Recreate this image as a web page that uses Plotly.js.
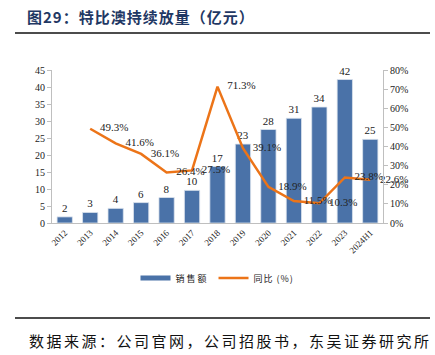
<!DOCTYPE html>
<html><head><meta charset="utf-8">
<script src="https://cdn.plot.ly/plotly-3.0.1.min.js"></script>
<style>html,body{margin:0;padding:0;background:#fff;}#chart{width:435px;height:355px;}</style>
</head><body><div id="chart"></div>
<script>
var categories = ["2012","2013","2014","2015","2016","2017","2018","2019","2020","2021","2022","2023","2024H1"];
var sales = [1.8, 3.1, 4.3, 6.0, 7.5, 9.6, 16.6, 23.2, 27.5, 30.8, 34.1, 42.2, 24.6];
var salesLabels = ["2","3","4","6","8","10","17","23","28","31","34","42","25"];
var yoy = [null, 0.493, 0.416, 0.361, 0.264, 0.275, 0.713, 0.391, 0.189, 0.115, 0.103, 0.238, 0.226];
var yoyLabels = ["", "49.3%", "41.6%", "36.1%", "26.4%", "27.5%", "71.3%", "39.1%", "18.9%", "11.5%", "10.3%", "23.8%", "22.6%"];
var seriesNames = ["销售额", "同比 (%)"];

var serif = "Liberation Serif, Times New Roman, serif";
var cjk = "Noto Sans CJK SC, sans-serif";
var blue = "#4A72A8", orange = "#EC7418";
function spaced(s, px){ return '<span style="letter-spacing:'+px+'px">'+s+'</span>'; }

var traces = [
  {type:"bar", x:categories, y:sales, name:seriesNames[0], text:salesLabels, textposition:"outside",
   textfont:{family:serif, size:11, color:"#222"}, cliponaxis:false, showlegend:false,
   marker:{color:blue, line:{color:"#DCE3EE", width:0.8}}, yaxis:"y"},
  {type:"scatter", mode:"lines", x:[categories[0]], y:[null], name:spaced(seriesNames[0], 2),
   line:{color:blue, width:5}, yaxis:"y", hoverinfo:"skip"},
  {type:"scatter", mode:"lines+markers+text", x:categories, y:yoy, name:spaced(seriesNames[1], 1), text:yoyLabels,
   textposition:"middle right", textfont:{family:serif, size:11, color:"#222"}, cliponaxis:false,
   marker:{size:14, color:"rgba(0,0,0,0)"},
   line:{color:orange, width:2.5}, yaxis:"y2"}
];

var layout = {
  width:435, height:355, margin:{l:52, r:52, t:70, b:132},
  paper_bgcolor:"#fff", plot_bgcolor:"#fff",
  bargap:0.4, showlegend:true,
  legend:{orientation:"h", x:0.5, xanchor:"center", y:-0.36, yanchor:"middle", itemwidth:30,
          font:{family:cjk, size:9, color:"#222"}, traceorder:"normal"},
  title:{text:'<b>'+spaced("图29：特比澳持续放量（亿元）", 1)+'</b>', x:27/435, xanchor:"left", xref:"container",
         y:1-18/355, yanchor:"middle", yref:"container", font:{family:cjk, size:15, color:"#1F3864"}},
  xaxis:{type:"category", categoryarray:categories, categoryorder:"array", range:[-0.5, categories.length-0.5],
         tickangle:-45, tickfont:{family:serif, size:9, color:"#222"},
         showline:true, linecolor:"#BFBFBF", linewidth:1, ticks:"", showgrid:false, fixedrange:true},
  yaxis:{range:[0,45], dtick:5, tickfont:{family:serif, size:10, color:"#222"},
         showline:true, linecolor:"#BFBFBF", linewidth:1, ticks:"outside", ticklen:4, tickcolor:"#BFBFBF",
         showgrid:false, zeroline:false},
  yaxis2:{range:[0,0.8], dtick:0.1, tickformat:".0%", overlaying:"y", side:"right",
          tickfont:{family:serif, size:10, color:"#222"},
          showline:true, linecolor:"#BFBFBF", linewidth:1, ticks:"outside", ticklen:4, tickcolor:"#BFBFBF",
          showgrid:false, zeroline:false},
  shapes:[
    {type:"line", xref:"paper", yref:"paper", x0:(15-52)/331, x1:(430-52)/331, y0:(223-33)/153, y1:(223-33)/153,
     line:{color:"#111", width:1.5}},
    {type:"line", xref:"paper", yref:"paper", x0:(15-52)/331, x1:(430-52)/331, y0:(223-318)/153, y1:(223-318)/153,
     line:{color:"#111", width:1.5}}
  ],
  annotations:[
    {text:spaced("数据来源：公司官网，公司招股书，东吴证券研究所", 2.5), xref:"paper", yref:"paper",
     x:(27-52)/331, y:(223-340)/153, xanchor:"left", yanchor:"middle", showarrow:false,
     font:{family:cjk, size:15, color:"#111"}}
  ]
};
Plotly.newPlot("chart", traces, layout, {displayModeBar:false, staticPlot:true});
</script></body></html>
